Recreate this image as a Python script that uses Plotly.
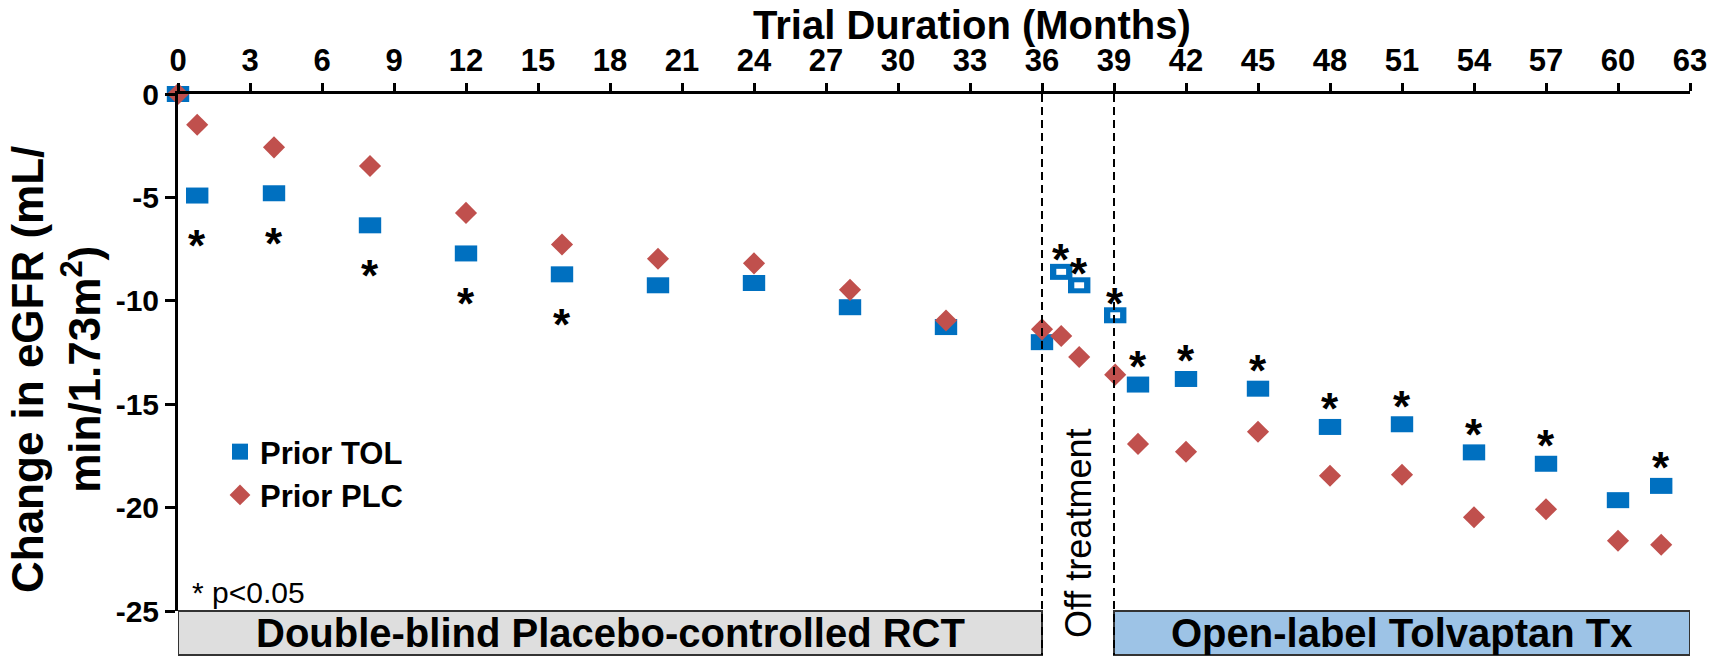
import plotly.graph_objects as go

# ---------------- data ----------------
tol_months = [0, 0.8, 4, 8, 12, 16, 20, 24, 28, 32, 36, 40, 42, 45, 48, 51, 54, 57, 60, 61.8]
tol_change = [0, -4.91, -4.80, -6.35, -7.71, -8.72, -9.25, -9.14, -10.31, -11.27, -12.0,
              -14.05, -13.78, -14.25, -16.10, -15.97, -17.33, -17.88, -19.64, -18.95]
tol_sig = [False, True, True, True, True, True, False, False, False, False, False,
           True, True, True, True, True, True, True, False, True]

tol_off_months = [36.8, 37.55, 39.05]
tol_off_change = [-8.6, -9.25, -10.7]
tol_off_sig = [True, True, True]

plc_months = [0, 0.8, 4, 8, 12, 16, 20, 24, 28, 32, 36, 36.8, 37.55, 39.05,
              40, 42, 45, 48, 51, 54, 57, 60, 61.8]
plc_change = [0, -1.49, -2.58, -3.48, -5.75, -7.28, -7.97, -8.19, -9.47, -10.95, -11.38,
              -11.70, -12.72, -13.57, -16.92, -17.30, -16.33, -18.46, -18.41, -20.47,
              -20.08, -21.6, -21.8]

series_names = ["Prior TOL", "Prior PLC"]
x_ticks = list(range(0, 64, 3))
y_ticks = [0, -5, -10, -15, -20, -25]
y_ticktext = ["0", "-5", "-10", "-15", "-20", "-25"]
phase_bounds = [0, 36, 39, 63]
phase_labels = ["Double-blind Placebo-controlled RCT", "Off treatment", "Open-label Tolvaptan Tx"]
x_title = "Trial Duration (Months)"
y_title = "Change in eGFR (mL/<br>min/1.73m<sup>2</sup>)"
sig_note = "* p<0.05"

# ---------------- style ----------------
BLUE = "#0070C0"
RED = "#C0504D"
FONT = "Liberation Sans, Arial, sans-serif"
W, H = 1720, 657
ML, MR, MT, MB = 178, 30, 94, 46
PH = H - MT - MB
PW = W - ML - MR
BOX_BOTTOM = -(655 - (H - MB)) / PH  # paper coordinate of box bottom

fig = go.Figure()

# solid TOL markers (wide rectangles)
fig.add_trace(go.Scatter(
    x=tol_months, y=tol_change, mode="markers", showlegend=False, cliponaxis=False,
    marker=dict(symbol="line-ew", size=16, color=BLUE, line=dict(color=BLUE, width=16)),
))
# open TOL markers (off treatment)
fig.add_trace(go.Scatter(
    x=tol_off_months, y=tol_off_change, mode="markers", showlegend=False, cliponaxis=False,
    marker=dict(symbol="line-ew", size=16, color=BLUE, line=dict(color=BLUE, width=16)),
))
fig.add_trace(go.Scatter(
    x=tol_off_months, y=tol_off_change, mode="markers", showlegend=False, cliponaxis=False,
    marker=dict(symbol="line-ew", size=7, color="white", line=dict(color="white", width=6)),
    hoverinfo="skip",
))
# PLC diamonds
fig.add_trace(go.Scatter(
    x=plc_months, y=plc_change, mode="markers", showlegend=False, cliponaxis=False,
    marker=dict(symbol="diamond", size=17, color=RED, line=dict(width=0)),
))
# legend entries
fig.add_trace(go.Scatter(x=[None], y=[None], mode="markers", name=series_names[0],
                         marker=dict(symbol="square", size=16, color=BLUE)))
fig.add_trace(go.Scatter(x=[None], y=[None], mode="markers", name=series_names[1],
                         marker=dict(symbol="diamond", size=16, color=RED)))

shapes = []
# phase boxes
shapes.append(dict(type="rect", xref="x", yref="paper", x0=phase_bounds[0], x1=phase_bounds[1],
                   y0=BOX_BOTTOM, y1=0, fillcolor="#DEDEDE", line=dict(color="#333333", width=2),
                   layer="below"))
shapes.append(dict(type="rect", xref="x", yref="paper", x0=phase_bounds[2], x1=phase_bounds[3],
                   y0=BOX_BOTTOM, y1=0, fillcolor="#9DC3E6", line=dict(color="#333333", width=2),
                   layer="below"))
# dashed separators
for b in phase_bounds[1:3]:
    shapes.append(dict(type="line", xref="x", yref="paper", x0=b, x1=b, y0=1, y1=BOX_BOTTOM,
                       line=dict(color="black", width=2, dash="8px,5px"), layer="above"))

ann = []
# phase labels
ann.append(dict(x=(phase_bounds[0] + phase_bounds[1]) / 2, y=BOX_BOTTOM / 2, xref="x", yref="paper",
                xanchor="center", yanchor="middle", text=phase_labels[0], showarrow=False,
                font=dict(family=FONT, size=40, color="black", weight="bold")))
ann.append(dict(x=(phase_bounds[1] + phase_bounds[2]) / 2, y=(H - MB - 534) / PH, xref="x", yref="paper",
                xanchor="center", yanchor="middle", text=phase_labels[1], showarrow=False, textangle=-90,
                font=dict(family=FONT, size=36, color="black")))
ann.append(dict(x=(phase_bounds[2] + phase_bounds[3]) / 2, y=BOX_BOTTOM / 2, xref="x", yref="paper",
                xanchor="center", yanchor="middle", text=phase_labels[2], showarrow=False,
                font=dict(family=FONT, size=40, color="black", weight="bold")))
# titles
ann.append(dict(x=(972 - ML) / PW, y=1, xref="paper", yref="paper", xanchor="center", yanchor="bottom",
                yshift=45, text=x_title, showarrow=False,
                font=dict(family=FONT, size=40, color="black", weight="bold")))
ann.append(dict(x=(56 - ML) / PW, y=(H - MB - 370) / PH, xref="paper", yref="paper",
                xanchor="center", yanchor="middle",
                text=y_title, showarrow=False, textangle=-90,
                font=dict(family=FONT, size=44, color="black", weight="bold")))
# significance note
ann.append(dict(x=0.5, y=-25, xref="x", yref="y", xanchor="left", yanchor="bottom",
                text=sig_note, showarrow=False,
                font=dict(family=FONT, size=30, color="black")))


def star_shift(month, kind):
    if kind == "open":
        return 12
    return -50 if month < phase_bounds[1] else 18


for m, v, s in zip(tol_months, tol_change, tol_sig):
    if s:
        ann.append(dict(x=m, y=v, xref="x", yref="y", text="*", showarrow=False,
                        xanchor="center", yanchor="middle", yshift=star_shift(m, "solid"),
                        font=dict(family=FONT, size=44, color="black", weight="bold")))
for m, v, s in zip(tol_off_months, tol_off_change, tol_off_sig):
    if s:
        ann.append(dict(x=m, y=v, xref="x", yref="y", text="*", showarrow=False,
                        xanchor="center", yanchor="middle", yshift=star_shift(m, "open"),
                        font=dict(family=FONT, size=44, color="black", weight="bold")))

fig.update_layout(
    width=W, height=H,
    margin=dict(l=ML, r=MR, t=MT, b=MB),
    paper_bgcolor="white", plot_bgcolor="white",
    shapes=shapes, annotations=ann,
    legend=dict(x=(220 - ML) / PW, y=(H - MB - 425) / PH, xanchor="left", yanchor="top",
                bgcolor="rgba(0,0,0,0)", font=dict(family=FONT, size=31, color="black", weight="bold"),
                tracegroupgap=0),
    xaxis=dict(range=[0, 63], side="top", tickvals=x_ticks, ticks="outside", ticklen=8, tickwidth=3,
               tickcolor="black", showline=True, linewidth=3, linecolor="black", showgrid=False,
               zeroline=False, tickfont=dict(family=FONT, size=31, color="black", weight="bold")),
    yaxis=dict(range=[-25, 0], tickvals=y_ticks, ticktext=y_ticktext, ticks="outside", ticklen=10,
               tickwidth=3, tickcolor="black", showline=True, linewidth=3, linecolor="black",
               showgrid=False, zeroline=False,
               tickfont=dict(family=FONT, size=30, color="black", weight="bold")),
)

fig.write_html("out.html", config={"displayModeBar": False},
               post_script="document.body.style.margin='0px';document.body.style.overflow='hidden';")
